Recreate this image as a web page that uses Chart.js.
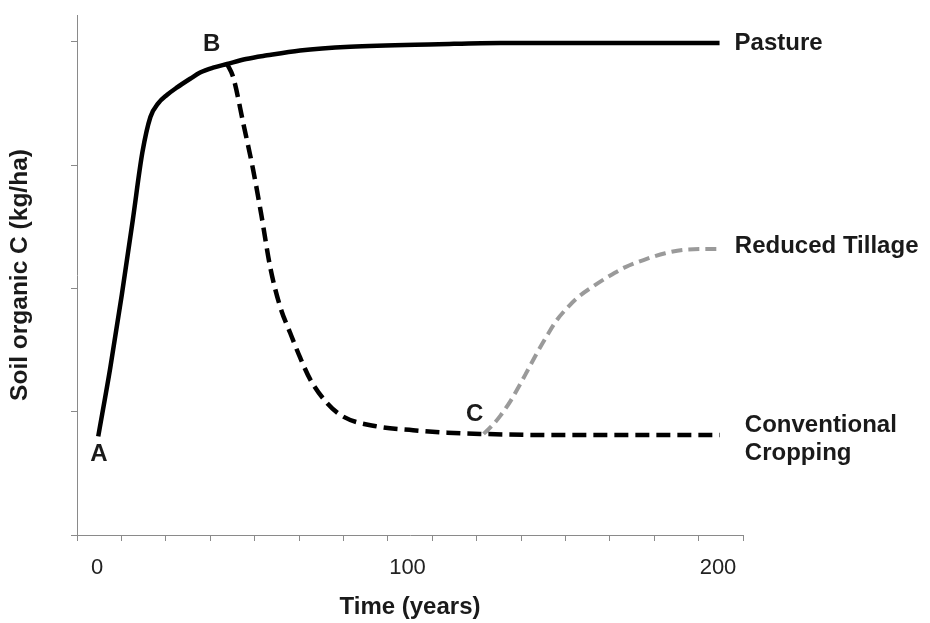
<!DOCTYPE html>
<html>
<head>
<meta charset="utf-8">
<script src="https://cdn.jsdelivr.net/npm/chart.js@4"></script>
<style>
  html, body { margin: 0; padding: 0; background: #ffffff; }
  #wrap { width: 930px; height: 623px; }
</style>
</head>
<body>
<div id="wrap"><canvas id="c" width="930" height="623"></canvas></div>
<script>
// ---- data ----
const seriesNames = ["Pasture", "Conventional Cropping", "Reduced Tillage"];

const pastureX = [0.4, 4.3, 8.0, 11.5, 14.6, 17.2, 19.7, 22.6, 25.8, 30.0, 33.2, 37.4, 41.9, 48, 54.8, 65.4, 81.5, 110, 130, 160, 200.5];
const pastureY = [0.80, 1.36, 1.95, 2.55, 3.10, 3.39, 3.50, 3.57, 3.63, 3.70, 3.75, 3.79, 3.82, 3.86, 3.89, 3.93, 3.96, 3.98, 3.99, 3.99, 3.99];

const croppingX = [41.9, 43.9, 47.1, 50.3, 52.9, 55.8, 59.0, 62.2, 65.4, 68.7, 74.1, 79.3, 90.3, 101.8, 112.8, 123.4, 150, 200.6];
const croppingY = [3.82, 3.71, 3.34, 2.96, 2.60, 2.17, 1.85, 1.64, 1.44, 1.26, 1.07, 0.96, 0.88, 0.85, 0.83, 0.82, 0.81, 0.81];

const tillageX = [124.5, 127, 130, 133, 136, 139, 142, 145, 148, 151, 155, 160, 165, 170, 176, 183, 190, 200.6];
const tillageY = [0.82, 0.88, 0.97, 1.08, 1.21, 1.35, 1.49, 1.62, 1.74, 1.83, 1.93, 2.02, 2.10, 2.17, 2.23, 2.285, 2.315, 2.32];

const xTickLabels = [0, 100, 200];
const yTickValues = [0, 1, 2, 3, 4];
const pointLetters = ["A", "B", "C"];

// ---- layout / styling (kept separate from data) ----
const X_MIN = -6.44, X_MAX = 208.05, Y_MIN = 0, Y_MAX = 4.217;
const MINOR_TICK_COUNT = 15;
const letterAnchors = [ {x: 0.65, y: 0.65}, {x: 36.9, y: 3.98}, {x: 121.6, y: 0.98} ];
const seriesLabelStyle = [
  {lines: ["Pasture"], dx: 15, dy: 0, lineGap: 0},
  {lines: ["Conventional", "Cropping"], dx: 25, dy: -10, lineGap: 28},
  {lines: ["Reduced Tillage"], dx: 15, dy: -3, lineGap: 0}
];

function toPoints(xs, ys) { return xs.map((x, i) => ({x: x, y: ys[i]})); }

const FONT_FAMILY = '"Liberation Sans", Arial, sans-serif';
const LABEL_FONT = 'bold 24px ' + FONT_FAMILY;
const TEXT_COLOR = '#1a1a1a';
const AXIS_COLOR = '#8a8a8a';

const textPlugin = {
  id: 'textPlugin',
  afterDatasetsDraw(chart) {
    const ctx = chart.ctx;
    const xs = chart.scales.x, ys = chart.scales.y;
    ctx.save();
    ctx.font = LABEL_FONT;
    ctx.fillStyle = TEXT_COLOR;
    ctx.textBaseline = 'middle';
    chart.data.datasets.forEach((ds, i) => {
      const last = ds.data[ds.data.length - 1];
      const st = seriesLabelStyle[i];
      const px = xs.getPixelForValue(last.x) + st.dx;
      const py = ys.getPixelForValue(last.y) + st.dy;
      ctx.textAlign = 'left';
      st.lines.forEach((ln, k) => ctx.fillText(ln, px, py + k * st.lineGap));
    });
    ctx.textAlign = 'center';
    pointLetters.forEach((t, i) => {
      const a = letterAnchors[i];
      ctx.fillText(t, xs.getPixelForValue(a.x), ys.getPixelForValue(a.y));
    });
    ctx.restore();
  }
};

const bgPlugin = {
  id: 'bg',
  beforeDraw(chart) {
    const ctx = chart.ctx;
    ctx.save();
    ctx.fillStyle = '#ffffff';
    ctx.fillRect(0, 0, chart.width, chart.height);
    ctx.restore();
  }
};

new Chart(document.getElementById('c'), {
  type: 'line',
  data: {
    datasets: [
      {
        label: seriesNames[0],
        data: toPoints(pastureX, pastureY),
        borderColor: '#000000',
        borderWidth: 4.5,
        pointRadius: 0,
        cubicInterpolationMode: 'monotone',
        fill: false
      },
      {
        label: seriesNames[1],
        data: toPoints(croppingX, croppingY),
        borderColor: '#000000',
        borderWidth: 4.5,
        borderDash: [14, 7],
        pointRadius: 0,
        cubicInterpolationMode: 'monotone',
        fill: false
      },
      {
        label: seriesNames[2],
        data: toPoints(tillageX, tillageY),
        borderColor: '#9a9a9a',
        borderWidth: 4,
        borderDash: [11, 6],
        pointRadius: 0,
        cubicInterpolationMode: 'monotone',
        fill: false
      }
    ]
  },
  options: {
    responsive: false,
    animation: false,
    devicePixelRatio: 1,
    layout: { padding: { top: 15, right: 187, left: 0, bottom: 0 } },
    plugins: { legend: { display: false }, tooltip: { enabled: false } },
    scales: {
      x: {
        type: 'linear',
        min: X_MIN,
        max: X_MAX,
        afterBuildTicks(scale) {
          const step = (X_MAX - X_MIN) / MINOR_TICK_COUNT;
          const t = [];
          for (let i = 0; i <= MINOR_TICK_COUNT; i++) t.push({value: X_MIN + i * step});
          xTickLabels.forEach(v => t.push({value: v}));
          t.sort((a, b) => a.value - b.value);
          scale.ticks = t;
        },
        afterFit(scale) { scale.height = 88; },
        ticks: {
          autoSkip: false,
          maxRotation: 0,
          padding: 14,
          color: '#222222',
          font: { family: FONT_FAMILY, size: 22 },
          callback(value) {
            return xTickLabels.some(v => Math.abs(v - value) < 1e-6) ? String(Math.round(value)) : '';
          }
        },
        grid: {
          drawOnChartArea: false,
          drawTicks: true,
          tickLength: 6,
          tickColor(ctx) {
            const v = ctx.tick ? ctx.tick.value : null;
            return (v !== null && xTickLabels.some(l => Math.abs(l - v) < 1e-6)) ? 'rgba(0,0,0,0)' : AXIS_COLOR;
          }
        },
        border: { display: true, color: AXIS_COLOR, width: 1 },
        title: {
          display: true,
          text: 'Time (years)',
          color: TEXT_COLOR,
          font: { family: FONT_FAMILY, size: 24, weight: 'bold' },
          padding: { top: 0, bottom: 1.5 }
        }
      },
      y: {
        type: 'linear',
        min: Y_MIN,
        max: Y_MAX,
        afterBuildTicks(scale) { scale.ticks = yTickValues.map(v => ({value: v})); },
        afterFit(scale) { scale.width = 77; },
        ticks: { display: false },
        grid: {
          drawOnChartArea: false,
          drawTicks: true,
          tickLength: 6,
          tickColor: AXIS_COLOR
        },
        border: { display: true, color: AXIS_COLOR, width: 1 },
        title: {
          display: true,
          text: 'Soil organic C (kg/ha)',
          color: TEXT_COLOR,
          font: { family: FONT_FAMILY, size: 24.5, weight: 'bold' },
          padding: { top: 6, bottom: 0 }
        }
      }
    }
  },
  plugins: [bgPlugin, textPlugin]
});
</script>
</body>
</html>
